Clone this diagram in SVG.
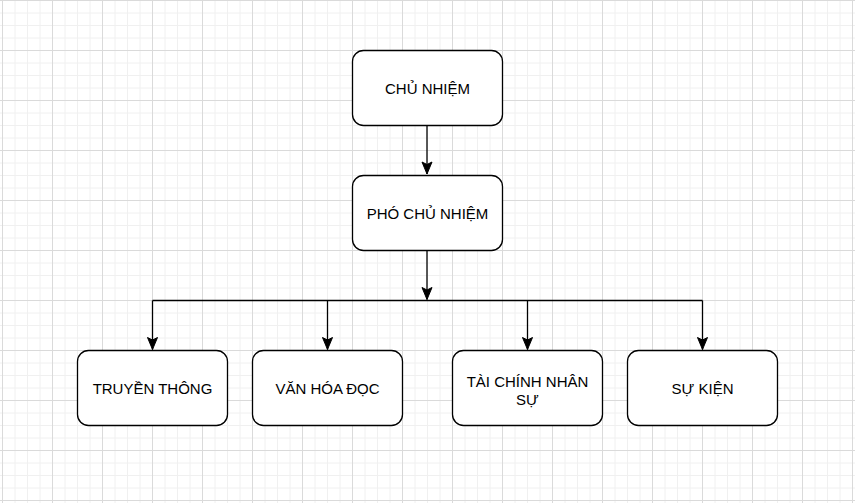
<svg xmlns="http://www.w3.org/2000/svg" width="855" height="503" viewBox="0 0 855 503">
  <defs>
    <pattern id="grid" patternUnits="userSpaceOnUse" x="2" y="0" width="50" height="50">
      <path d="M13 0V50M25.5 0V50M38 0V50M0 13H50M0 25.5H50M0 38H50" fill="none" stroke="#f0f0f0" stroke-width="1"/>
      <path d="M0.5 0V50M0 0.5H50" fill="none" stroke="#dadada" stroke-width="1"/>
    </pattern>
    <marker id="arrow" markerUnits="userSpaceOnUse" markerWidth="14" markerHeight="12" viewBox="0 0 14 12" refX="13" refY="6" orient="auto">
      <path d="M13 6L1 1L3.5 6L1 11Z" fill="#000" stroke="#000" stroke-width="1"/>
    </marker>
    <style>
      .node rect { fill: #fff; stroke: #000; stroke-width: 1.3; }
      .node text { font-family: "Liberation Sans", Arial, Helvetica, sans-serif; font-size: 15px; fill: #000; text-anchor: middle; }
      .edge { fill: none; stroke: #000; stroke-width: 1.3; }
    </style>
  </defs>
  <rect width="855" height="503" fill="#fff"/>
  <rect width="855" height="503" fill="url(#grid)"/>

  <g id="connectors">
    <path class="edge" d="M427 125.5V174" marker-end="url(#arrow)"/>
    <path class="edge" d="M427 250.5V299.5" marker-end="url(#arrow)"/>
    <path class="edge" d="M152.5 300.5H702.5"/>
    <path class="edge" d="M152.5 300.5V349.5" marker-end="url(#arrow)"/>
    <path class="edge" d="M327.5 300.5V349.5" marker-end="url(#arrow)"/>
    <path class="edge" d="M527.5 300.5V349.5" marker-end="url(#arrow)"/>
    <path class="edge" d="M702.5 300.5V349.5" marker-end="url(#arrow)"/>
  </g>

  <g id="chu-nhiem" class="node">
    <rect x="352.5" y="50.5" width="150" height="75" rx="11" ry="11"/>
    <text x="427.5" y="94">CHỦ NHIỆM</text>
  </g>
  <g id="pho-chu-nhiem" class="node">
    <rect x="352.5" y="175.5" width="150" height="75" rx="11" ry="11"/>
    <text x="427.5" y="219">PHÓ CHỦ NHIỆM</text>
  </g>
  <g id="truyen-thong" class="node">
    <rect x="77.5" y="350.5" width="150" height="75" rx="11" ry="11"/>
    <text x="152.5" y="394">TRUYỀN THÔNG</text>
  </g>
  <g id="van-hoa-doc" class="node">
    <rect x="252.5" y="350.5" width="150" height="75" rx="11" ry="11"/>
    <text x="327.5" y="394">VĂN HÓA ĐỌC</text>
  </g>
  <g id="tai-chinh-nhan-su" class="node">
    <rect x="452.5" y="350.5" width="150" height="75" rx="11" ry="11"/>
    <text x="527.5" y="386.5">TÀI CHÍNH NHÂN</text>
    <text x="527.5" y="404.5">SỰ</text>
  </g>
  <g id="su-kien" class="node">
    <rect x="627.5" y="350.5" width="150" height="75" rx="11" ry="11"/>
    <text x="702.5" y="394">SỰ KIỆN</text>
  </g>
</svg>
